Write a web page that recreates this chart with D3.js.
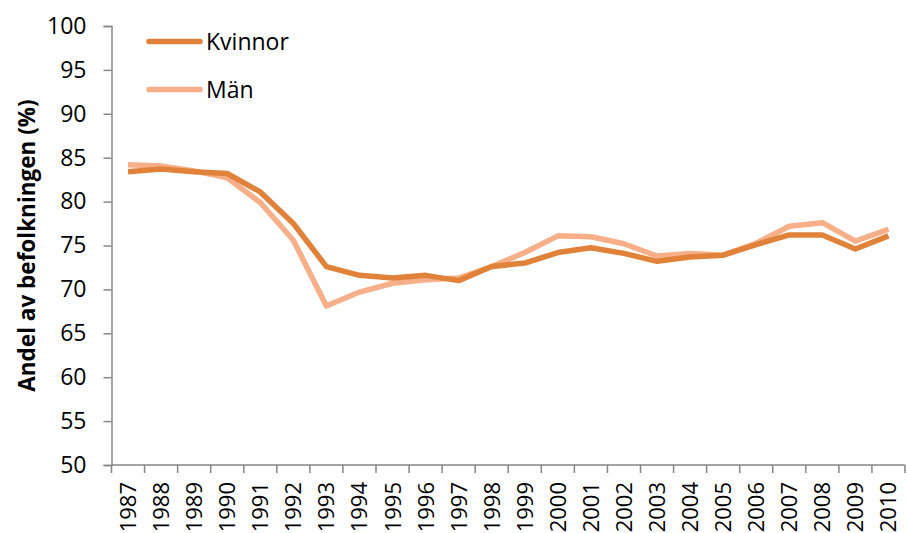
<!DOCTYPE html>
<html>
<head>
<meta charset="utf-8">
<script src="https://cdn.jsdelivr.net/npm/d3@7"></script>
<style>
  body { margin: 0; background: #fff; }
  text { font-family: 'Open Sans', sans-serif; }
</style>
</head>
<body>
<div id="chart"></div>
<script>
const years = ['1987', '1988', '1989', '1990', '1991', '1992', '1993', '1994', '1995', '1996', '1997', '1998',
  '1999', '2000', '2001', '2002', '2003', '2004', '2005', '2006', '2007', '2008', '2009', '2010'];
const kvinnor = [83.4, 83.7, 83.4, 83.2, 81.1, 77.5, 72.6, 71.6, 71.3, 71.6, 71.0, 72.6,
  73.0, 74.2, 74.75, 74.1, 73.2, 73.7, 73.9, 75.1, 76.2, 76.2, 74.6, 76.1];
const man = [84.2, 84.05, 83.5, 82.7, 79.9, 75.6, 68.1, 69.7, 70.7, 71.1, 71.3, 72.6,
  74.2, 76.1, 76.0, 75.2, 73.8, 74.1, 73.9, 75.25, 77.2, 77.6, 75.5, 76.85];
const yTicks = [50, 55, 60, 65, 70, 75, 80, 85, 90, 95, 100];

const series = [
  { name: 'Kvinnor', values: kvinnor, color: '#E0823A' },
  { name: 'Män', values: man, color: '#F6AF88' }
];

const width = 907, height = 533;
const plotLeft = 111.5, plotRight = 905, plotTop = 26, plotBottom = 465;

const svg = d3.select('#chart').append('svg')
  .attr('width', width)
  .attr('height', height);

const x = d3.scaleBand().domain(years).range([plotLeft, plotRight]);
const y = d3.scaleLinear().domain([50, 100]).range([plotBottom, plotTop]);

// y axis
const yAxis = svg.append('g')
  .attr('transform', `translate(${plotLeft},0)`)
  .call(d3.axisLeft(y).tickValues(yTicks).tickSize(8).tickPadding(17));
yAxis.select('.domain').attr('stroke', '#868686').attr('stroke-width', 1.5);
yAxis.selectAll('.tick line').attr('stroke', '#868686').attr('stroke-width', 1.5);
yAxis.selectAll('.tick text')
  .attr('font-size', 23)
  .attr('fill', '#000')
  .style('font-family', "'Open Sans', sans-serif");

// x axis: ticks on band boundaries
const xAxis = svg.append('g')
  .attr('transform', `translate(0,${plotBottom})`);
xAxis.append('line')
  .attr('x1', plotLeft).attr('x2', plotRight)
  .attr('stroke', '#868686').attr('stroke-width', 1.5);
xAxis.selectAll('line.tk')
  .data(years.concat(['end']))
  .enter().append('line')
  .attr('class', 'tk')
  .attr('x1', (d, i) => plotLeft + i * x.step())
  .attr('x2', (d, i) => plotLeft + i * x.step())
  .attr('y1', 0).attr('y2', 8)
  .attr('stroke', '#868686').attr('stroke-width', 1.5);
xAxis.selectAll('text')
  .data(years)
  .enter().append('text')
  .attr('transform', d => `translate(${x(d) + x.bandwidth() / 2 + 8},17) rotate(-90)`)
  .attr('text-anchor', 'end')
  .attr('font-size', 22)
  .attr('fill', '#000')
  .text(d => d);

// y axis title
svg.append('text')
  .attr('transform', `translate(35,${(plotTop + plotBottom) / 2}) rotate(-90)`)
  .attr('text-anchor', 'middle')
  .attr('font-size', 22.5)
  .attr('font-weight', 'bold')
  .attr('fill', '#000')
  .text('Andel av befolkningen (%)');

// lines
const line = d3.line()
  .x((d, i) => x(years[i]) + x.bandwidth() / 2)
  .y(d => y(d));

svg.append('g')
  .selectAll('path')
  .data(series.slice().reverse())
  .enter().append('path')
  .attr('d', d => line(d.values))
  .attr('fill', 'none')
  .attr('stroke', d => d.color)
  .attr('stroke-width', 5.5)
  .attr('stroke-linejoin', 'round');

// legend
const legend = svg.append('g');
series.forEach((s, i) => {
  const ly = 41.5 + i * 48;
  legend.append('line')
    .attr('x1', 149).attr('x2', 200)
    .attr('y1', ly).attr('y2', ly)
    .attr('stroke', s.color)
    .attr('stroke-width', 5.5)
    .attr('stroke-linecap', 'round');
  legend.append('text')
    .attr('x', 206).attr('y', ly + 8.5)
    .attr('font-size', 23)
    .attr('fill', '#000')
    .text(s.name);
});
</script>
</body>
</html>
